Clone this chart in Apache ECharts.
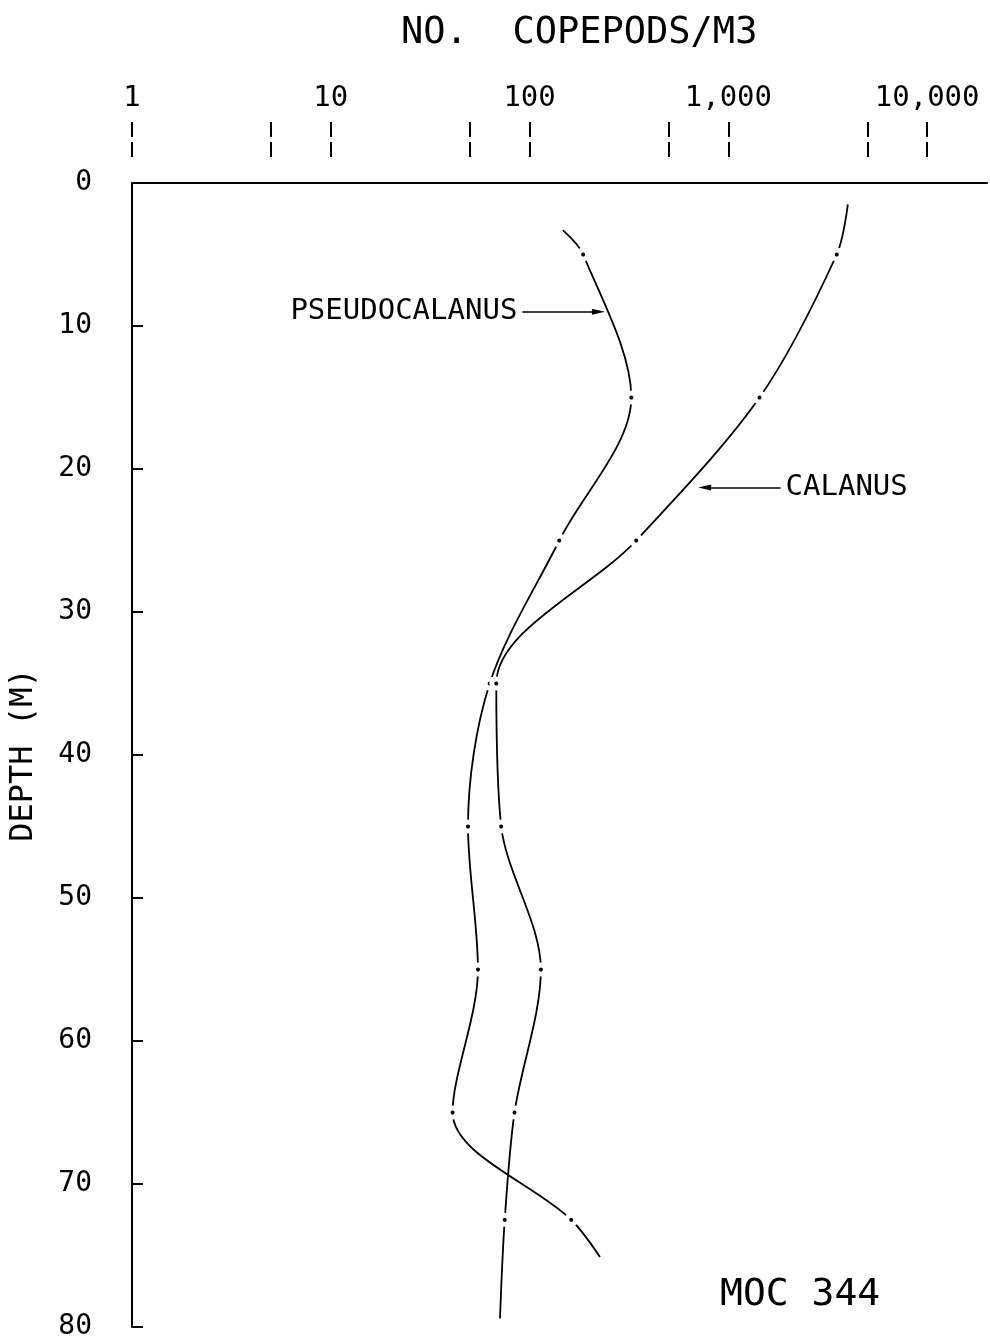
<!DOCTYPE html>
<html><head><meta charset="utf-8">
<script src="https://cdn.jsdelivr.net/npm/echarts@6/dist/echarts.min.js"></script>
<style>html,body{margin:0;padding:0;background:#fff}#c{width:990px;height:1342px}</style>
</head><body><div id="c"></div>
<script>
// ---- data ----
const xTickValues = [1, 5, 10, 50, 100, 500, 1000, 5000, 10000];
const xLabelValues = [1, 10, 100, 1000, 10000];
const pseudoDepth = [3.3, 5, 15, 25, 35, 45, 55, 65, 72.5, 75.1];
const pseudoCount = [147, 186, 325, 141, 63, 49, 55, 41, 162, 226];
const calanusDepth = [1.5, 5, 15, 25, 35, 45, 55, 65, 72.5, 79.4];
const calanusCount = [3990, 3510, 1435, 344, 68, 72, 114, 84, 75, 71];
const pseudoArrow = {from: [92, 9], to: [222, 9], label: 'PSEUDOCALANUS'};
const calanusArrow = {from: [1830, 21.3], to: [760, 21.3], label: 'CALANUS'};

const FONT = "'DejaVu Sans Mono', monospace";
const INK = '#000';

function buildData(depths, counts) {
  return depths.map((d, i) => {
    const item = {value: [counts[i], d]};
    if (i === 0 || i === depths.length - 1) item.symbol = 'none';
    return item;
  });
}
function arrow(a) {
  return {
    silent: true,
    animation: false,
    symbol: ['none', 'triangle'],
    symbolSize: 10,
    lineStyle: {color: INK, width: 1.6, type: 'solid'},
    label: {show: true, position: 'start', distance: 5, formatter: a.label,
            color: INK, fontFamily: FONT, fontSize: 29},
    data: [[{coord: a.from, symbol: 'none'},
            {coord: a.to, symbol: 'path://M4,0L8,16L0,16Z', symbolSize: [6, 13]}]]
  };
}
function lineSeries(name, depths, counts, a) {
  return {
    name, type: 'line', xAxisIndex: 0, yAxisIndex: 0,
    data: buildData(depths, counts),
    smooth: 0.32,
    symbol: 'circle', symbolSize: 9,
    itemStyle: {color: INK, borderColor: '#fff', borderWidth: 5},
    lineStyle: {color: INK, width: 1.8},
    animation: false,
    markLine: arrow(a)
  };
}

const chart = echarts.init(document.getElementById('c'), null, {renderer: 'canvas'});
chart.setOption({
  backgroundColor: '#fff',
  title: {text: 'NO.  COPEPODS/M3', left: 396, top: 10,
          textStyle: {fontFamily: FONT, fontSize: 37, fontWeight: 'normal', color: INK}},
  grid: {left: 132, right: 3, top: 183, bottom: 15, containLabel: false},
  xAxis: [
    {type: 'log', logBase: 10, min: 1, max: 20000, position: 'top',
     axisLine: {show: true, onZero: false, lineStyle: {color: INK, width: 2}},
     // ticks stand off the axis line: a 26px gap, then two 15px dashes
     axisTick: {show: true, inside: false, customValues: xTickValues, length: 61,
                lineStyle: {color: INK, width: 2, type: [15, 5, 15, 26], dashOffset: 35}},
     axisLabel: {show: true, customValues: xLabelValues, margin: 70,
                 color: INK, fontFamily: FONT, fontSize: 29,
                 formatter: v => Number(v).toLocaleString('en-US')},
     splitLine: {show: false}}
  ],
  yAxis: {
    type: 'value', inverse: true, min: 0, max: 80, interval: 10,
    name: 'DEPTH (M)', nameLocation: 'middle', nameGap: 92,
    nameTextStyle: {fontFamily: FONT, fontSize: 32, color: INK},
    axisLine: {show: true, lineStyle: {color: INK, width: 2}},
    axisTick: {show: true, inside: true, length: 11, lineStyle: {color: INK, width: 2}},
    axisLabel: {margin: 40, color: INK, fontFamily: FONT, fontSize: 28},
    splitLine: {show: false}
  },
  graphic: [{type: 'text', left: 720, top: 1276,
             style: {text: 'MOC 344', fill: INK, font: "38px 'DejaVu Sans Mono', monospace"}}],
  series: [
    lineSeries('Pseudocalanus', pseudoDepth, pseudoCount, pseudoArrow),
    lineSeries('Calanus', calanusDepth, calanusCount, calanusArrow)
  ]
});
</script></body></html>
